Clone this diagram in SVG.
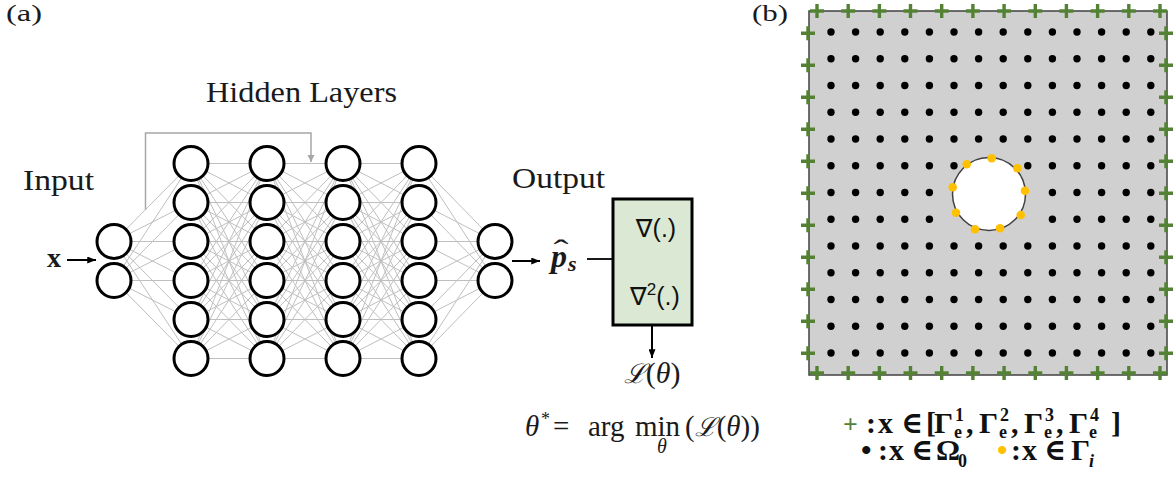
<svg xmlns="http://www.w3.org/2000/svg" xmlns:xlink="http://www.w3.org/1999/xlink" width="1175" height="482" viewBox="0 0 1175 482">
<style>
.ser{font-family:"Liberation Serif",serif;fill:#1a1a1a}
.lbl{font-size:29px}
.n{fill:#fff;stroke:#000;stroke-width:3}
.cn{fill:none;stroke:#bfbfbf;stroke-width:1}
.ar{fill:none;stroke:#000;stroke-width:2}
.dot{fill:#000}
.ye{fill:#ffc000}
.sans{font-family:"Liberation Sans","DejaVu Sans",sans-serif;font-size:25px;fill:#111}
.leg{font-family:"Liberation Serif","DejaVu Serif",serif;font-weight:bold;font-size:30px;fill:#111}
.sm{font-size:18px}
</style>
<defs>
<marker id="ah" viewBox="0 0 10 8" refX="10" refY="4" markerWidth="9" markerHeight="7" markerUnits="userSpaceOnUse" orient="auto"><path d="M0 0L10 4L0 8z" fill="#000"/></marker>
<marker id="ahg" viewBox="0 0 10 10" refX="10" refY="5" markerWidth="7" markerHeight="8" markerUnits="userSpaceOnUse" orient="auto"><path d="M0 0L10 5L0 10z" fill="#a6a6a6"/></marker>
<path id="k66" class="cn" d="M0 163.5L76 163.5M0 163.5L76 202.5M0 163.5L76 241.5M0 163.5L76 280.5M0 163.5L76 319.5M0 163.5L76 358.5M0 202.5L76 163.5M0 202.5L76 202.5M0 202.5L76 241.5M0 202.5L76 280.5M0 202.5L76 319.5M0 202.5L76 358.5M0 241.5L76 163.5M0 241.5L76 202.5M0 241.5L76 241.5M0 241.5L76 280.5M0 241.5L76 319.5M0 241.5L76 358.5M0 280.5L76 163.5M0 280.5L76 202.5M0 280.5L76 241.5M0 280.5L76 280.5M0 280.5L76 319.5M0 280.5L76 358.5M0 319.5L76 163.5M0 319.5L76 202.5M0 319.5L76 241.5M0 319.5L76 280.5M0 319.5L76 319.5M0 319.5L76 358.5M0 358.5L76 163.5M0 358.5L76 202.5M0 358.5L76 241.5M0 358.5L76 280.5M0 358.5L76 319.5M0 358.5L76 358.5"/>
<path id="cr" d="M-7 0H7M0-7V7" stroke="#548235" stroke-width="3.4" fill="none"/>
<g id="drow" class="dot"><circle cx="831" cy="0" r="3.7"/><circle cx="855.6" cy="0" r="3.7"/><circle cx="880.2" cy="0" r="3.7"/><circle cx="904.8" cy="0" r="3.7"/><circle cx="929.4" cy="0" r="3.7"/><circle cx="954" cy="0" r="3.7"/><circle cx="978.6" cy="0" r="3.7"/><circle cx="1003.2" cy="0" r="3.7"/><circle cx="1027.8" cy="0" r="3.7"/><circle cx="1052.4" cy="0" r="3.7"/><circle cx="1077" cy="0" r="3.7"/><circle cx="1101.6" cy="0" r="3.7"/><circle cx="1126.2" cy="0" r="3.7"/><circle cx="1150.8" cy="0" r="3.7"/></g>
<g id="drowA" class="dot"><circle cx="831" cy="0" r="3.7"/><circle cx="855.6" cy="0" r="3.7"/><circle cx="880.2" cy="0" r="3.7"/><circle cx="904.8" cy="0" r="3.7"/><circle cx="929.4" cy="0" r="3.7"/><circle cx="954" cy="0" r="3.7"/><circle cx="1027.8" cy="0" r="3.7"/><circle cx="1052.4" cy="0" r="3.7"/><circle cx="1077" cy="0" r="3.7"/><circle cx="1101.6" cy="0" r="3.7"/><circle cx="1126.2" cy="0" r="3.7"/><circle cx="1150.8" cy="0" r="3.7"/></g>
<g id="drowB" class="dot"><circle cx="831" cy="0" r="3.7"/><circle cx="855.6" cy="0" r="3.7"/><circle cx="880.2" cy="0" r="3.7"/><circle cx="904.8" cy="0" r="3.7"/><circle cx="929.4" cy="0" r="3.7"/><circle cx="1052.4" cy="0" r="3.7"/><circle cx="1077" cy="0" r="3.7"/><circle cx="1101.6" cy="0" r="3.7"/><circle cx="1126.2" cy="0" r="3.7"/><circle cx="1150.8" cy="0" r="3.7"/></g>
</defs>
<rect width="1175" height="482" fill="#fff"/>

<!-- panel labels -->
<text class="ser" x="6" y="21" font-size="23" textLength="36" lengthAdjust="spacingAndGlyphs">(a)</text>
<text class="ser" x="752" y="21" font-size="23" textLength="36" lengthAdjust="spacingAndGlyphs">(b)</text>
<text id="lbl-hidden" class="ser lbl" x="206" y="102" textLength="191" lengthAdjust="spacingAndGlyphs">Hidden Layers</text>
<text id="lbl-input" class="ser lbl" x="23" y="190" textLength="71" lengthAdjust="spacingAndGlyphs">Input</text>
<text id="lbl-output" class="ser lbl" x="512" y="188" textLength="93" lengthAdjust="spacingAndGlyphs">Output</text>

<!-- connectors -->
<g id="connectors">
<path class="cn" d="M114 241.5L191 163.5M114 241.5L191 202.5M114 241.5L191 241.5M114 241.5L191 280.5M114 241.5L191 319.5M114 241.5L191 358.5M114 280.5L191 163.5M114 280.5L191 202.5M114 280.5L191 241.5M114 280.5L191 280.5M114 280.5L191 319.5M114 280.5L191 358.5"/>
<use href="#k66" x="191"/>
<use href="#k66" x="267"/>
<use href="#k66" x="343"/>
<path class="cn" d="M419 163.5L495 241.5M419 202.5L495 241.5M419 241.5L495 241.5M419 280.5L495 241.5M419 319.5L495 241.5M419 358.5L495 241.5M419 163.5L495 280.5M419 202.5L495 280.5M419 241.5L495 280.5M419 280.5L495 280.5M419 319.5L495 280.5M419 358.5L495 280.5"/>
<path d="M145.5 209.6V133H311V162" fill="none" stroke="#a6a6a6" stroke-width="1.5" marker-end="url(#ahg)"/>
<path class="ar" d="M67 260H96" marker-end="url(#ah)"/>
<path class="ar" d="M512 261H540" marker-end="url(#ah)"/>
<path d="M587 259H613" stroke="#000" stroke-width="1.8"/>
<path class="ar" d="M652 325V358" marker-end="url(#ah)"/>
</g>

<!-- input layer -->
<g id="in1"><circle class="n" cx="114" cy="241.5" r="17"/></g>
<g id="in2"><circle class="n" cx="114" cy="280.5" r="17"/></g>
<!-- hidden layer 1 -->
<g id="h1n1"><circle class="n" cx="191" cy="163.5" r="17"/></g>
<g id="h1n2"><circle class="n" cx="191" cy="202.5" r="17"/></g>
<g id="h1n3"><circle class="n" cx="191" cy="241.5" r="17"/></g>
<g id="h1n4"><circle class="n" cx="191" cy="280.5" r="17"/></g>
<g id="h1n5"><circle class="n" cx="191" cy="319.5" r="17"/></g>
<g id="h1n6"><circle class="n" cx="191" cy="358.5" r="17"/></g>
<!-- hidden layer 2 -->
<g id="h2n1"><circle class="n" cx="267" cy="163.5" r="17"/></g>
<g id="h2n2"><circle class="n" cx="267" cy="202.5" r="17"/></g>
<g id="h2n3"><circle class="n" cx="267" cy="241.5" r="17"/></g>
<g id="h2n4"><circle class="n" cx="267" cy="280.5" r="17"/></g>
<g id="h2n5"><circle class="n" cx="267" cy="319.5" r="17"/></g>
<g id="h2n6"><circle class="n" cx="267" cy="358.5" r="17"/></g>
<!-- hidden layer 3 -->
<g id="h3n1"><circle class="n" cx="343" cy="163.5" r="17"/></g>
<g id="h3n2"><circle class="n" cx="343" cy="202.5" r="17"/></g>
<g id="h3n3"><circle class="n" cx="343" cy="241.5" r="17"/></g>
<g id="h3n4"><circle class="n" cx="343" cy="280.5" r="17"/></g>
<g id="h3n5"><circle class="n" cx="343" cy="319.5" r="17"/></g>
<g id="h3n6"><circle class="n" cx="343" cy="358.5" r="17"/></g>
<!-- hidden layer 4 -->
<g id="h4n1"><circle class="n" cx="419" cy="163.5" r="17"/></g>
<g id="h4n2"><circle class="n" cx="419" cy="202.5" r="17"/></g>
<g id="h4n3"><circle class="n" cx="419" cy="241.5" r="17"/></g>
<g id="h4n4"><circle class="n" cx="419" cy="280.5" r="17"/></g>
<g id="h4n5"><circle class="n" cx="419" cy="319.5" r="17"/></g>
<g id="h4n6"><circle class="n" cx="419" cy="358.5" r="17"/></g>
<!-- output layer -->
<g id="out1"><circle class="n" cx="495" cy="241.5" r="17"/></g>
<g id="out2"><circle class="n" cx="495" cy="280.5" r="17"/></g>

<g id="x-in"><text class="ser" x="47" y="267" font-size="28" font-weight="bold">x</text></g>

<g id="p-hat">
<text class="ser" x="551" y="267" font-size="32" font-weight="bold" font-style="italic">p</text>
<text class="ser" x="568" y="271" font-size="22" font-weight="bold" font-style="italic">s</text>
<text class="ser" x="561" y="260" font-size="30" text-anchor="middle" transform="translate(561 0) scale(1.5 1) translate(-561 0)">ˆ</text>
</g>

<g id="diff-box">
<rect x="613" y="199" width="79" height="126" fill="#dbe9d4" stroke="#000" stroke-width="3"/>
<text class="sans" x="656" y="237" text-anchor="middle">∇(.)</text>
<text class="sans" x="655" y="305" text-anchor="middle">∇<tspan font-size="17" dy="-10">2</tspan><tspan dy="10">(.)</tspan></text>
</g>

<g id="loss">
<text class="ser" x="652" y="383" font-size="30" text-anchor="middle"><tspan font-family="DejaVu Serif" font-style="italic" font-size="27">ℒ</tspan>(<tspan font-style="italic">θ</tspan>)</text>
</g>

<g id="argmin">
<text class="ser" y="436" font-size="29"><tspan x="525" font-style="italic">θ</tspan><tspan x="541" y="425" font-size="18">*</tspan><tspan x="553" y="436">=</tspan><tspan x="588">arg</tspan><tspan x="635">min</tspan><tspan x="685">(<tspan font-family="DejaVu Serif" font-style="italic" font-size="26">ℒ</tspan>(<tspan font-style="italic">θ</tspan>))</tspan></text>
<text class="ser" x="662" y="453" font-size="20" font-style="italic" text-anchor="middle">θ</text>
</g>

<!-- panel b -->
<g id="domain">
<rect x="809" y="11" width="358" height="364" fill="#d0d0d0" stroke="#404040" stroke-width="1.5"/>
<use href="#drow" y="32"/>
<use href="#drow" y="58.75"/>
<use href="#drow" y="85.5"/>
<use href="#drow" y="112.25"/>
<use href="#drow" y="139"/>
<use href="#drowA" y="165.75"/>
<use href="#drowB" y="192.5"/>
<use href="#drowB" y="219.25"/>
<use href="#drow" y="246"/>
<use href="#drow" y="272.75"/>
<use href="#drow" y="299.5"/>
<use href="#drow" y="326.25"/>
<use href="#drow" y="353"/>
</g>
<g id="hole">
<circle cx="989" cy="194" r="36.5" fill="#fff" stroke="#404040" stroke-width="1.5"/>
<g class="ye">
<circle cx="966.7" cy="164.3" r="4.3"/><circle cx="991.7" cy="158.3" r="4.3"/><circle cx="1017.3" cy="168.3" r="4.3"/><circle cx="952.7" cy="187.3" r="4.3"/><circle cx="1025" cy="190.7" r="4.3"/><circle cx="956" cy="212.7" r="4.3"/><circle cx="1020.7" cy="215" r="4.3"/><circle cx="975" cy="229.3" r="4.3"/><circle cx="1000" cy="228.3" r="4.3"/>
</g>
</g>
<g id="boundary">
<use href="#cr" x="817" y="11"/><use href="#cr" x="848.2" y="11"/><use href="#cr" x="879.4" y="11"/><use href="#cr" x="910.5" y="11"/><use href="#cr" x="941.7" y="11"/><use href="#cr" x="972.9" y="11"/><use href="#cr" x="1004.1" y="11"/><use href="#cr" x="1035.3" y="11"/><use href="#cr" x="1066.4" y="11"/><use href="#cr" x="1097.6" y="11"/><use href="#cr" x="1128.8" y="11"/><use href="#cr" x="1160" y="11"/>
<use href="#cr" x="817" y="373"/><use href="#cr" x="848.2" y="373"/><use href="#cr" x="879.4" y="373"/><use href="#cr" x="910.5" y="373"/><use href="#cr" x="941.7" y="373"/><use href="#cr" x="972.9" y="373"/><use href="#cr" x="1004.1" y="373"/><use href="#cr" x="1035.3" y="373"/><use href="#cr" x="1066.4" y="373"/><use href="#cr" x="1097.6" y="373"/><use href="#cr" x="1128.8" y="373"/><use href="#cr" x="1160" y="373"/>
<use href="#cr" x="808" y="33.3"/><use href="#cr" x="808" y="65.3"/><use href="#cr" x="808" y="97.3"/><use href="#cr" x="808" y="129.3"/><use href="#cr" x="808" y="161.3"/><use href="#cr" x="808" y="193.3"/><use href="#cr" x="808" y="225.3"/><use href="#cr" x="808" y="257.3"/><use href="#cr" x="808" y="289.3"/><use href="#cr" x="808" y="321.3"/><use href="#cr" x="808" y="353.3"/>
<use href="#cr" x="1166" y="33.3"/><use href="#cr" x="1166" y="65.3"/><use href="#cr" x="1166" y="97.3"/><use href="#cr" x="1166" y="129.3"/><use href="#cr" x="1166" y="161.3"/><use href="#cr" x="1166" y="193.3"/><use href="#cr" x="1166" y="225.3"/><use href="#cr" x="1166" y="257.3"/><use href="#cr" x="1166" y="289.3"/><use href="#cr" x="1166" y="321.3"/><use href="#cr" x="1166" y="353.3"/>
</g>

<g id="legend">
<text class="leg" y="433"><tspan x="843" fill="#548235" font-size="26">+</tspan><tspan x="866">:</tspan><tspan x="878">x</tspan><tspan x="901">∈</tspan><tspan x="926">[</tspan><tspan x="934">Γ</tspan><tspan x="955" y="421" class="sm">1</tspan><tspan x="954" y="438" class="sm">e</tspan><tspan x="966" y="433">,</tspan><tspan x="979">Γ</tspan><tspan x="1000" y="421" class="sm">2</tspan><tspan x="999" y="438" class="sm">e</tspan><tspan x="1011" y="433">,</tspan><tspan x="1024">Γ</tspan><tspan x="1045" y="421" class="sm">3</tspan><tspan x="1044" y="438" class="sm">e</tspan><tspan x="1056" y="433">,</tspan><tspan x="1069">Γ</tspan><tspan x="1090" y="421" class="sm">4</tspan><tspan x="1089" y="438" class="sm">e</tspan><tspan x="1111" y="433">]</tspan></text>
<text class="leg" y="460"><tspan x="861">•</tspan><tspan x="878">:</tspan><tspan x="889">x</tspan><tspan x="911">∈</tspan><tspan x="936">Ω</tspan><tspan x="958" y="467" class="sm">0</tspan><tspan x="997" y="460" fill="#ffc000">•</tspan><tspan x="1011">:</tspan><tspan x="1022">x</tspan><tspan x="1044">∈</tspan><tspan x="1071">Γ</tspan><tspan x="1089" y="467" class="sm" font-style="italic">i</tspan></text>
</g>
</svg>
